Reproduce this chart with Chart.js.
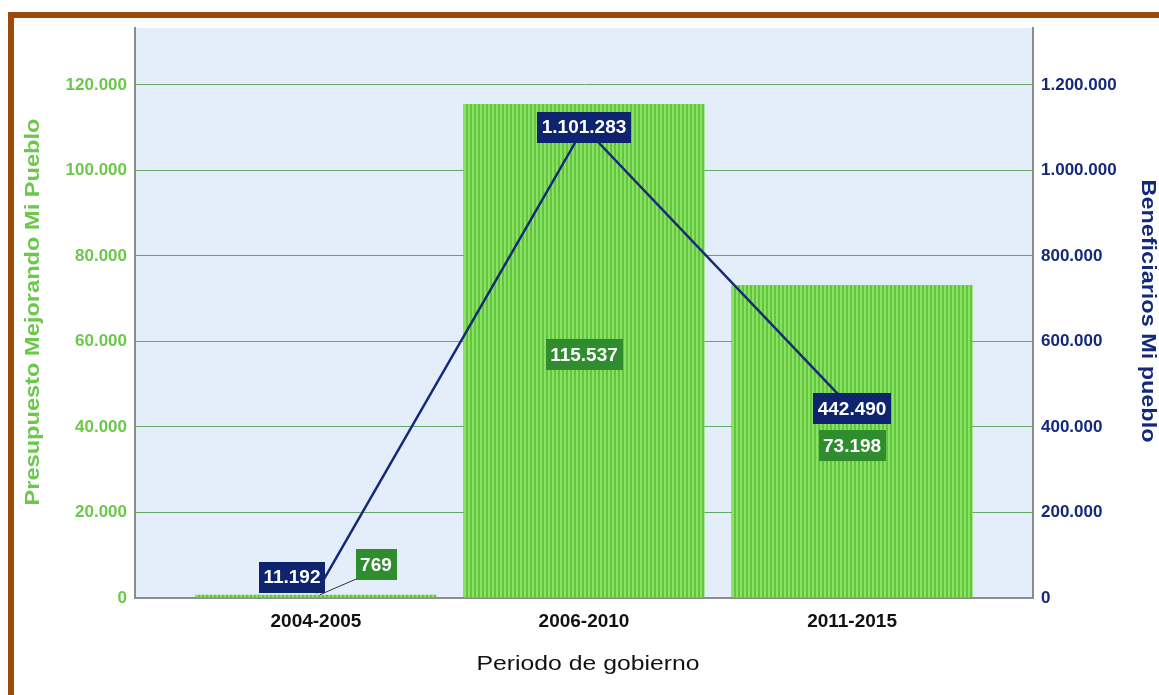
<!DOCTYPE html>
<html>
<head>
<meta charset="utf-8">
<title>Presupuesto y beneficiarios Mi Pueblo</title>
<script src="https://cdn.jsdelivr.net/npm/chart.js@4.4.1/dist/chart.umd.min.js"></script>
<style>
    html, body { margin: 0; padding: 0; background: #fff; overflow: hidden; }
    #wrap { position: relative; width: 1159px; height: 695px; }
    #chart { position: absolute; left: 0; top: 0; }
    #frame {
        position: absolute; left: 8px; top: 12px; width: 1200px; height: 720px;
        border-top: 6px solid #9c4a0a; border-left: 6px solid #9c4a0a;
        pointer-events: none;
    }
</style>
</head>
<body>
<div id="wrap">
    <canvas id="chart" width="1159" height="695"></canvas>
    <div id="frame"></div>
</div>
<script>
// Data
const periods = ['2004-2005', '2006-2010', '2011-2015'];
const budget = [769, 115537, 73198];                 // Presupuesto Mejorando Mi Pueblo
const beneficiaries = [11192, 1101283, 442490];      // Beneficiarios Mi pueblo
const budgetTicks = [0, 20000, 40000, 60000, 80000, 100000, 120000];
const beneficiaryTicks = [0, 200000, 400000, 600000, 800000, 1000000, 1200000];
const budgetMax = 133333;
const beneficiaryMax = 1333333;

// Colours
const green = '#6cc84a';
const navy = '#14297a';
const gridGreen = '#62a862';
const axisGrey = '#8c8c8c';
const plotBg = '#e3eefa';
const fontFamily = '"Liberation Sans", Arial, sans-serif';

// Label offsets (pixels) for the crowded first category
const barLabelShift = [[60, -30], [0, 4], [0, 4]];
const lineLabelShift = [[-24, -16], [0, 0], [0, 0]];

function fmt(v) {
    return String(Math.round(v)).replace(/\B(?=(\d{3})+(?!\d))/g, '.');
}

function stripePattern() {
    const c = document.createElement('canvas');
    c.width = 4; c.height = 1;
    const g = c.getContext('2d');
    g.fillStyle = '#8ce064';
    g.fillRect(0, 0, 4, 1);
    g.fillStyle = '#60c63d';
    g.fillRect(2, 0, 2, 1);
    return g.createPattern(c, 'repeat');
}

function drawTag(ctx, text, cx, cy, bg) {
    ctx.font = 'bold 19px ' + fontFamily;
    const w = ctx.measureText(text).width + 9;
    const h = 31;
    ctx.fillStyle = bg;
    ctx.fillRect(Math.round(cx - w / 2), Math.round(cy - h / 2), Math.round(w), h);
    ctx.fillStyle = '#ffffff';
    ctx.textAlign = 'center';
    ctx.textBaseline = 'middle';
    ctx.fillText(text, cx, cy + 1);
}

function drawFittedText(ctx, text, x, y, angle, font, color, length) {
    ctx.save();
    ctx.translate(x, y);
    ctx.rotate(angle);
    ctx.font = font;
    const w = ctx.measureText(text).width;
    ctx.scale(length / w, 1);
    ctx.fillStyle = color;
    ctx.textAlign = 'center';
    ctx.textBaseline = 'middle';
    ctx.fillText(text, 0, 0);
    ctx.restore();
}

const plotBackground = {
    id: 'plotBackground',
    beforeDraw(chart) {
        const { ctx, chartArea: a } = chart;
        ctx.save();
        ctx.fillStyle = plotBg;
        ctx.fillRect(a.left, a.top, a.right - a.left, a.bottom - a.top);
        ctx.restore();
    }
};

const valueTags = {
    id: 'valueTags',
    afterDatasetsDraw(chart) {
        const ctx = chart.ctx;
        ctx.save();
        // Bar labels
        chart.getDatasetMeta(1).data.forEach(function(el, i) {
            const s = barLabelShift[i];
            let cx, cy;
            if (el.base - el.y < 40) {
                cx = el.x + s[0];
                cy = el.y + s[1];
                // leader line
                ctx.strokeStyle = '#333333';
                ctx.lineWidth = 1;
                ctx.beginPath();
                ctx.moveTo(el.x + 4, el.y);
                ctx.lineTo(cx - 19, cy + 14);
                ctx.stroke();
            } else {
                cx = el.x + s[0];
                cy = (el.y + el.base) / 2 + s[1];
            }
            drawTag(ctx, fmt(budget[i]), cx, cy, '#2f8c2f');
        });
        // Line labels
        chart.getDatasetMeta(0).data.forEach(function(el, i) {
            const s = lineLabelShift[i];
            drawTag(ctx, fmt(beneficiaries[i]), el.x + s[0], el.y + s[1], '#0e246e');
        });
        ctx.restore();
    }
};

const axisTitles = {
    id: 'axisTitles',
    afterDraw(chart) {
        const ctx = chart.ctx;
        drawFittedText(ctx, 'Presupuesto Mejorando Mi Pueblo', 33, 312, -Math.PI / 2,
            'bold 20px ' + fontFamily, green, 387);
        drawFittedText(ctx, 'Beneficiarios Mi pueblo', 1148, 311, Math.PI / 2,
            'bold 20px ' + fontFamily, navy, 263);
        drawFittedText(ctx, 'Periodo de gobierno', 588, 664, 0,
            '21px ' + fontFamily, '#111111', 223);
    }
};

const ctx = document.getElementById('chart');

new Chart(ctx, {
    data: {
        datasets: [
            {
                type: 'line',
                label: 'Beneficiarios Mi pueblo',
                data: beneficiaries.map((v, i) => ({ x: i, y: v })),
                yAxisID: 'y1',
                borderColor: navy,
                borderWidth: 2.5,
                pointRadius: 0,
                tension: 0,
                order: 0
            },
            {
                type: 'bar',
                label: 'Presupuesto Mejorando Mi Pueblo',
                data: budget.map((v, i) => ({ x: i, y: v })),
                yAxisID: 'y',
                backgroundColor: stripePattern(),
                borderWidth: 0,
                barPercentage: 0.9,
                categoryPercentage: 1.0,
                order: 1
            }
        ]
    },
    options: {
        responsive: false,
        animation: false,
        layout: { padding: { top: 28, left: 0, right: 0, bottom: 0 } },
        plugins: {
            legend: { display: false },
            tooltip: { enabled: false },
            title: { display: false }
        },
        scales: {
            x: {
                type: 'linear',
                min: -0.675,
                max: 2.675,
                offset: false,
                afterBuildTicks: function(scale) {
                    scale.ticks = periods.map((p, i) => ({ value: i }));
                },
                afterFit: function(scale) { scale.height = 97; },
                grid: { display: false, drawTicks: false, offset: false },
                border: { display: true, color: axisGrey, width: 2 },
                ticks: {
                    autoSkip: false,
                    maxRotation: 0,
                    padding: 12,
                    color: '#111111',
                    font: { family: fontFamily, size: 19, weight: 'bold' },
                    callback: function(v) { return periods[v]; }
                }
            },
            y: {
                position: 'left',
                min: 0,
                max: budgetMax,
                afterBuildTicks: function(scale) {
                    scale.ticks = budgetTicks.map(v => ({ value: v }));
                },
                afterFit: function(scale) { scale.width = 135; },
                grid: { color: gridGreen, lineWidth: 1, drawTicks: false },
                border: { display: true, color: axisGrey, width: 2 },
                ticks: {
                    padding: 8,
                    color: green,
                    font: { family: fontFamily, size: 17, weight: 'bold' },
                    callback: function(v) { return fmt(v); }
                }
            },
            y1: {
                position: 'right',
                min: 0,
                max: beneficiaryMax,
                afterBuildTicks: function(scale) {
                    scale.ticks = beneficiaryTicks.map(v => ({ value: v }));
                },
                afterFit: function(scale) { scale.width = 126; },
                grid: { display: false, drawTicks: false },
                border: { display: true, color: axisGrey, width: 2 },
                ticks: {
                    padding: 8,
                    color: navy,
                    font: { family: fontFamily, size: 17, weight: 'bold' },
                    callback: function(v) { return fmt(v); }
                }
            }
        }
    },
    plugins: [plotBackground, valueTags, axisTitles]
});
</script>
</body>
</html>
